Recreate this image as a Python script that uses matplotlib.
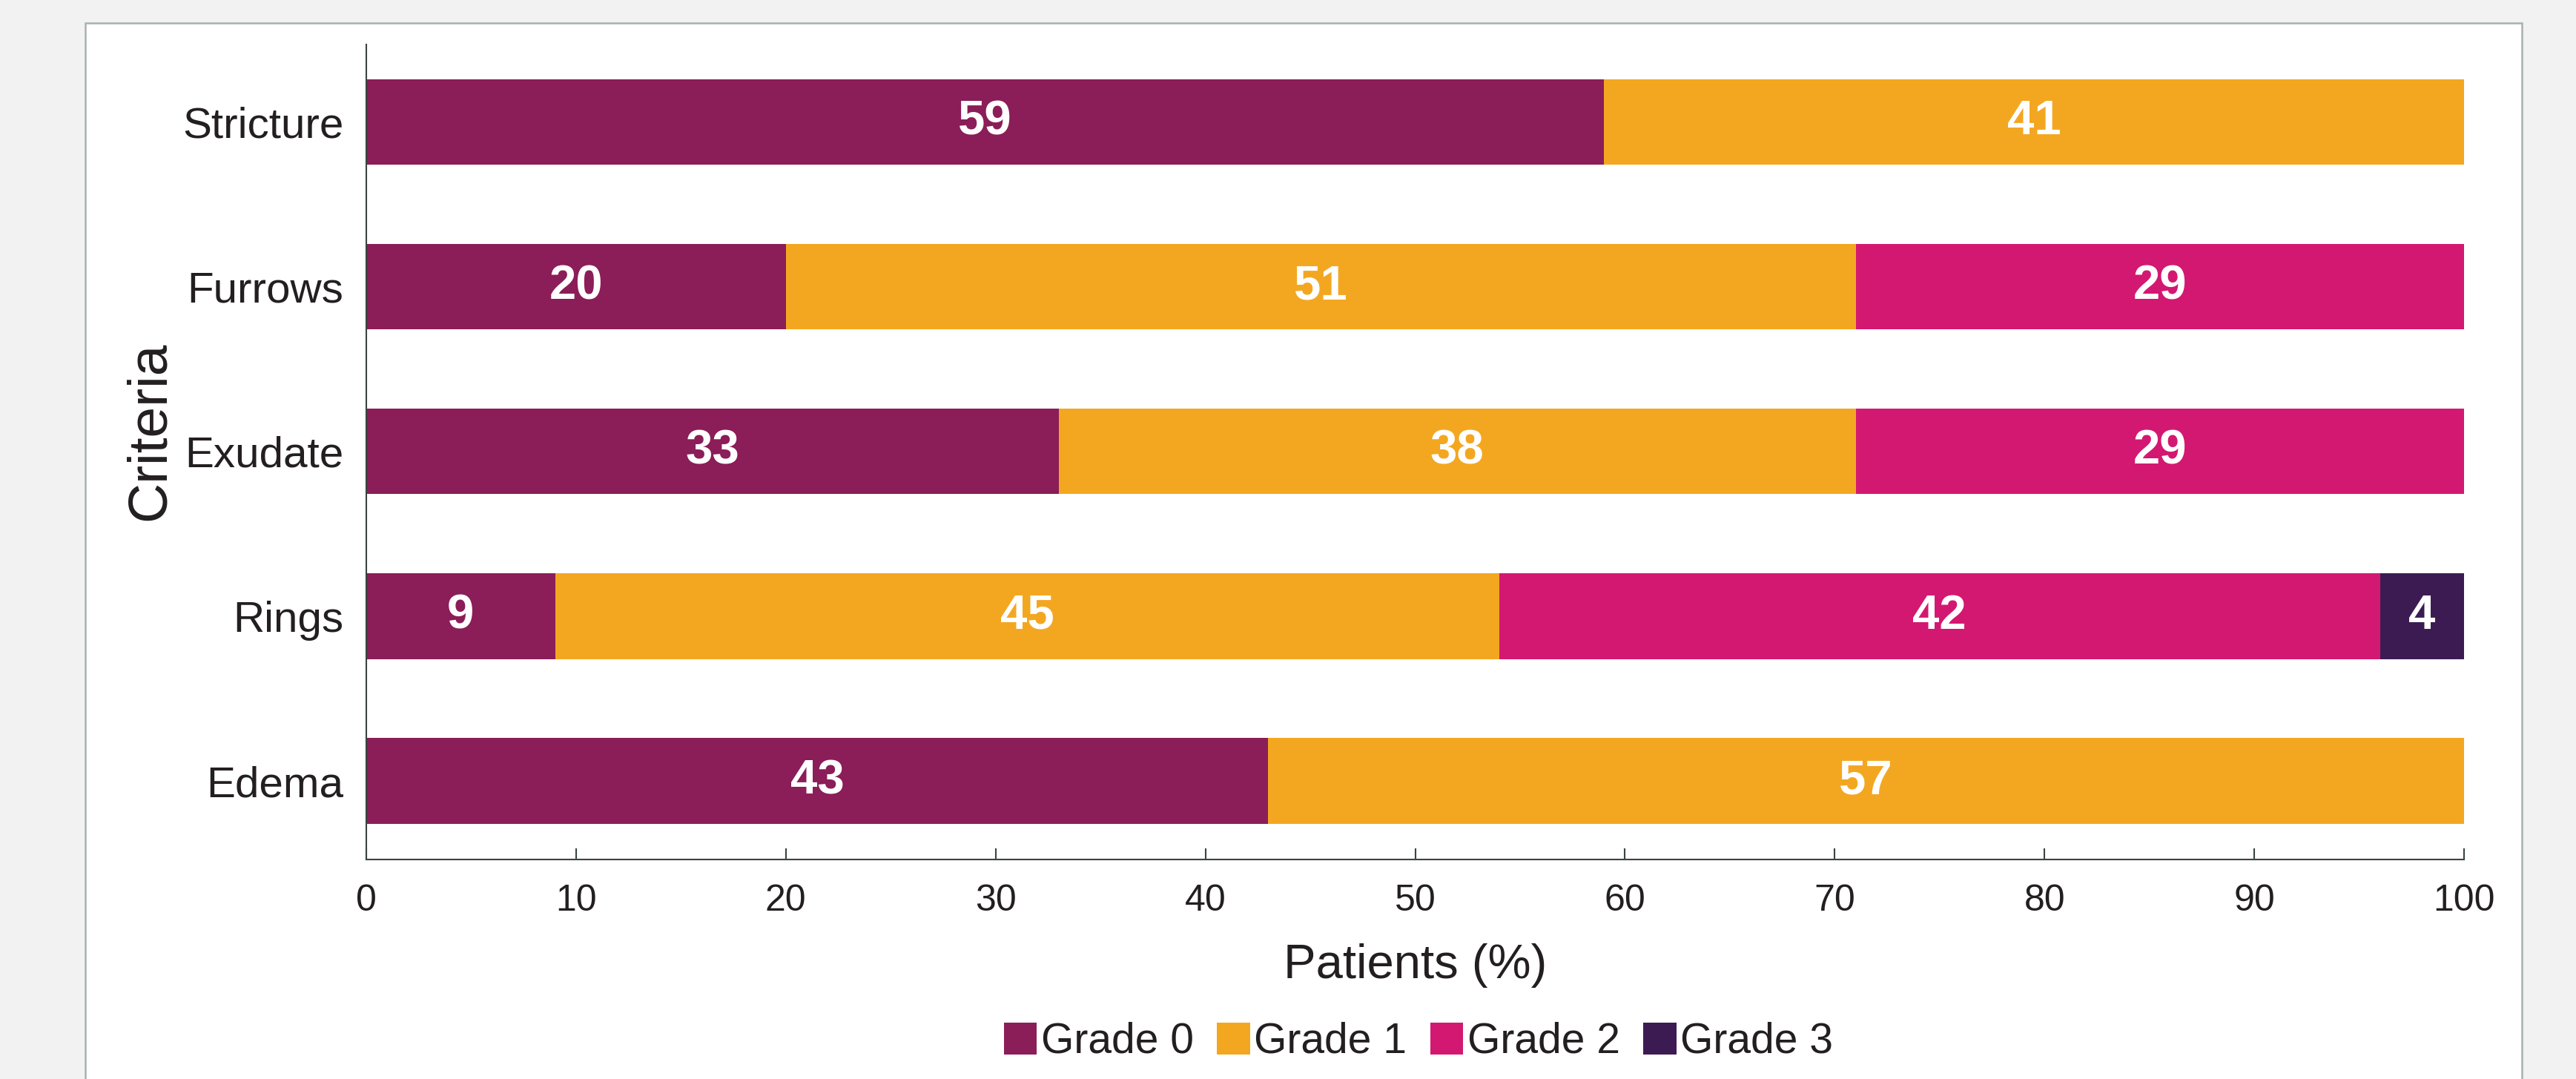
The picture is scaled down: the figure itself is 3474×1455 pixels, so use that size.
import matplotlib
matplotlib.use("Agg")
import matplotlib.pyplot as plt
from matplotlib.patches import Rectangle
import numpy as np

# data (bottom to top)
criteria = ["Edema", "Rings", "Exudate", "Furrows", "Stricture"]
grades = ["Grade 0", "Grade 1", "Grade 2", "Grade 3"]
grade0 = [43, 9, 33, 20, 59]
grade1 = [57, 45, 38, 51, 41]
grade2 = [0, 42, 29, 29, 0]
grade3 = [0, 4, 0, 0, 0]
colors = ["#8B1D58", "#F3A721", "#D31872", "#3C1B52"]

plt.rcParams["font.family"] = ["Liberation Sans", "DejaVu Sans"]
txt = "#231F20"
axc = "#3A4442"

W, H = 3474, 1455
fig = plt.figure(figsize=(W / 100, H / 100), dpi=100, facecolor="#F2F2F2")

# white panel with grey border, behind the axes
panel = Rectangle((115 / W, -0.05), (3401 - 115) / W, 1.05 - 31 / H,
                  transform=fig.transFigure, facecolor="white",
                  edgecolor="#A7B3B1", linewidth=1.8, zorder=-10)
fig.patches.append(panel)

ax = fig.add_axes([494 / W, 1 - 1159 / H, (3323 - 494) / W, (1159 - 60) / H])
ax.set_facecolor("white")

y = np.arange(len(criteria))
left = np.zeros(len(criteria))
series = [grade0, grade1, grade2, grade3]
for name, vals, c in zip(grades, series, colors):
    vals = np.array(vals)
    ax.barh(y, vals, left=left, height=0.52, color=c, label=name, zorder=2)
    for yi, l, v in zip(y, left, vals):
        if v > 0:
            ax.text(l + v / 2, yi, str(v), ha="center", va="center",
                    color="white", fontsize=47, fontweight="bold", zorder=3)
    left = left + vals

ax.set_xlim(0, 100)
ax.set_ylim(-0.477, 4.47)
ax.set_xticks(range(0, 101, 10))
ax.set_yticks(y)
ax.set_yticklabels(criteria)

for s in ["top", "right"]:
    ax.spines[s].set_visible(False)
for s in ["left", "bottom"]:
    ax.spines[s].set_color(axc)
    ax.spines[s].set_linewidth(1.5)

ax.tick_params(axis="x", direction="in", length=11, width=1.5, color=axc,
               labelsize=36, labelcolor=txt, pad=24)
ax.tick_params(axis="y", length=0, labelsize=42, labelcolor=txt, pad=22)

ax.set_xlabel("Patients (%)", fontsize=47, color=txt, labelpad=24)
ax.set_ylabel("Criteria", fontsize=54, color=txt)
ax.yaxis.set_label_coords(-0.091, 0.526)

handles, labels = ax.get_legend_handles_labels()
fig.legend(handles, labels, loc="center", bbox_to_anchor=(1913 / W, 1 - 1405 / H),
           ncol=4, frameon=False, fontsize=41, handlelength=0.78,
           handleheight=0.78, handletextpad=0.1, columnspacing=0.55,
           labelcolor=txt)

fig.savefig("out.png", dpi=100, facecolor=fig.get_facecolor())
